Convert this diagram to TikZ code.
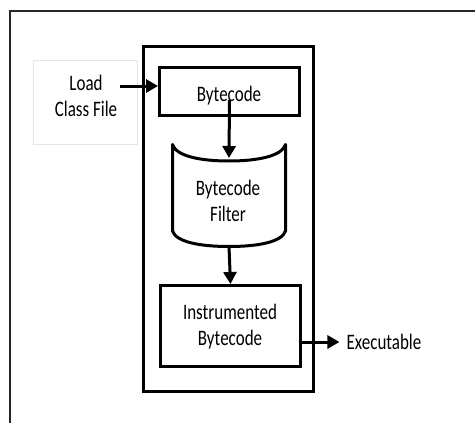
\documentclass[tikz,border=0pt]{standalone}
\usepackage{fontspec}
\setmainfont{Carlito}
\usetikzlibrary{arrows.meta}
\newcommand\stt[1]{\scalebox{1}[1.3]{\begin{tabular}{@{}c@{}}#1\end{tabular}}}
\begin{document}
\begin{tikzpicture}[x=1pt,y=-1pt,
 boxn/.style={draw=black,line width=3pt,rectangle,inner sep=0pt},
 lbl/.style={inner sep=0pt,font=\fontsize{17}{20}\selectfont},
 arr/.style={line width=3pt,-{Triangle[length=12pt,width=13pt]}}]
\useasboundingbox (0,0) rectangle (475,423);
\begin{scope}
\clip (0,0) rectangle (475,423);
\draw[line width=2pt, draw=black!85] (10,11) rectangle (490,440);
\end{scope}
% load class file box
\node[draw=black!10, line width=1.5pt, minimum width=104pt, minimum height=84pt, inner sep=0pt] (load) at (85.5,102.5) {};
% main box
\node[boxn, minimum width=170pt, minimum height=345pt] (main) at (228.5,219) {};
\node[boxn, minimum width=140pt, minimum height=48pt] (bc) at (229.5,91.5) {};
\node[boxn, minimum width=140pt, minimum height=81pt] (ins) at (230.5,326) {};
% filter
\draw[line width=3pt, line join=round] (172.5,144.5) .. controls (176,156) and (200,161) .. (229,161)
  .. controls (258,161) and (282,156) .. (285.5,144.5) -- (285.5,231)
  .. controls (282,242) and (258,246.5) .. (229,246.5)
  .. controls (200,246.5) and (176,242) .. (172.5,231) -- cycle;
\coordinate (ftop) at (229,158);
\coordinate (fbot) at (229,246.5);
\coordinate (lstart) at (120,86);
% texts
\node[lbl] (tload) at (86,98) {\stt{Load\\Class File}};
\node[lbl] (tbc) at (229,96) {\stt{Bytecode}};
\node[lbl] (tflt) at (228,203) {\stt{Bytecode\\Filter}};
\node[lbl] (tins) at (230,327) {\stt{Instrumented\\Bytecode}};
\node[lbl] (exe) at (384,344) {\stt{Executable}};
% arrows
\draw[arr] (lstart) -- ([yshift=5.5pt]bc.west);
\draw[arr] ([yshift=-8.5pt]bc.center) -- (ftop);
\draw[arr] (fbot) -- (ins.north);
\draw[arr, shorten >=7pt] ([xshift=-3.5pt,yshift=-16pt]ins.east) -- (exe.west |- 0,342);
\end{tikzpicture}
\end{document}
